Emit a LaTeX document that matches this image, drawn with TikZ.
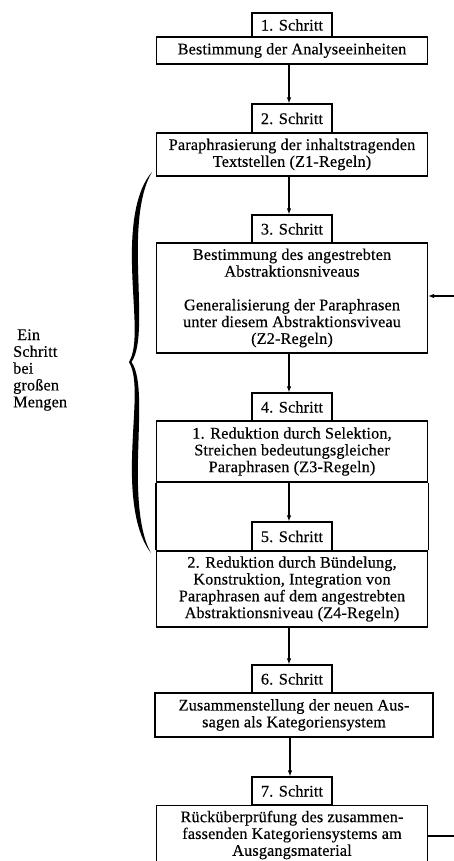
\documentclass[tikz,border=0pt]{standalone}
\usepackage{fontspec}
\setmainfont{Liberation Serif}[LetterSpace=1.0, FakeBold=0.4]
\usetikzlibrary{arrows.meta}
\tikzset{
  txt/.style={font=\fontsize{16.2}{16.8}\selectfont, inner sep=0pt, align=center},
  lab/.style={txt, draw, line width=1.2pt, minimum width=80pt, minimum height=28pt},
  mbox/.style={txt, draw, line width=1.2pt, minimum width=271pt},
  arr/.style={line width=1.2pt, -{Latex[length=6pt,width=4.5pt]}},
  conn/.style={line width=1.2pt}
}
\begin{document}
\begin{tikzpicture}[x=1pt,y=-1pt]
\clip (0,0) rectangle (454,861);
\fill[white] (0,0) rectangle (454,861);

% step 1
\node[lab, minimum height=24pt] (l1) at (292,25) {1. Schritt};
\node[mbox, minimum height=27pt] (b1) at (292,50.5) {Bestimmung der Analyseeinheiten};
% step 2
\node[lab, minimum height=29pt] (l2) at (292,118.5) {2. Schritt};
\node[mbox, minimum height=43pt] (b2) at (292,154.5) {Paraphrasierung der inhaltstragenden\\Textstellen (Z1-Regeln)};
% step 3
\node[lab] (l3) at (292,229) {3. Schritt};
\node[mbox, minimum height=110pt] (b3) at (292,298) {Bestimmung des angestrebten\\Abstraktionsniveaus\\[16.8pt]Generalisierung der Paraphrasen\\unter diesem Abstraktionsviveau\\(Z2-Regeln)};
% step 4
\node[lab] (l4) at (292,407) {4. Schritt};
\node[mbox, minimum height=61pt] (b4) at (292,451.5) {1. Reduktion durch Selektion,\\Streichen bedeutungsgleicher\\Paraphrasen (Z3-Regeln)};
% step 5
\node[lab, minimum height=29pt] (l5) at (292,536.5) {5. Schritt};
\node[mbox, minimum height=76pt] (b5) at (292,589) {2. Reduktion durch Bündelung,\\Konstruktion, Integration von\\Paraphrasen auf dem angestrebten\\Abstraktionsniveau (Z4-Regeln)};
% step 6
\node[lab] (l6) at (292,679) {6. Schritt};
\node[mbox, minimum width=278pt, minimum height=44pt] (b6) at (294,715) {Zusammenstellung der neuen Aus-\\sagen als Kategoriensystem};
% step 7
\node[lab] (l7) at (292,791) {7. Schritt};
\node[mbox, minimum height=90pt, anchor=north] (b7) at (292,805) {};
\node[txt] (b7t) at (292,835) {Rücküberprüfung des zusammen-\\fassenden Kategoriensystems am\\Ausgangsmaterial};

% side walls joining step 4 and step 5 boxes
\draw[conn] (b4.south west) -- (b5.north west);
\draw[conn] (b4.south east) -- (b5.north east);

% arrows
\draw[arr] ([xshift=-3pt]b1.south) -- ([xshift=-3pt]l2.north);
\draw[arr] ([xshift=-3pt]b2.south) -- ([xshift=-3pt]l3.north);
\draw[arr] ([xshift=-3pt]b3.south) -- ([xshift=-3pt]l4.north);
\draw[arr] ([xshift=-3pt]b4.south) -- ([xshift=-3pt]l5.north);
\draw[arr] ([xshift=-3pt]b5.south) -- ([xshift=-3pt]l6.north);
\draw[arr] ([xshift=-4pt]b6.south) -- ([xshift=-2pt]l7.north);

% feedback stubs
\coordinate (fbin) at (454,296);
\coordinate (fbout) at (454,836);
\draw[arr] (fbin) -- (fbin -| b3.east);
\draw[conn] (b7.east |- fbout) -- (fbout);

% brace
\fill (152,172) .. controls (136,190) and (131,225) .. (132,265)
  .. controls (133,310) and (139,345) .. (129,362)
  .. controls (139,379) and (133,414) .. (132,459)
  .. controls (131,499) and (136,534) .. (151,553)
  .. controls (140,534) and (137,499) .. (138,459)
  .. controls (139,414) and (142,377) .. (131.5,362)
  .. controls (142,347) and (139,310) .. (138,265)
  .. controls (137,225) and (140,192) .. (152,172) -- cycle;

% left label
\node[txt, align=left, anchor=west] (side) at (13,370) {\hspace{4pt}Ein\\Schritt\\bei\\großen\\Mengen};
\end{tikzpicture}
\end{document}
